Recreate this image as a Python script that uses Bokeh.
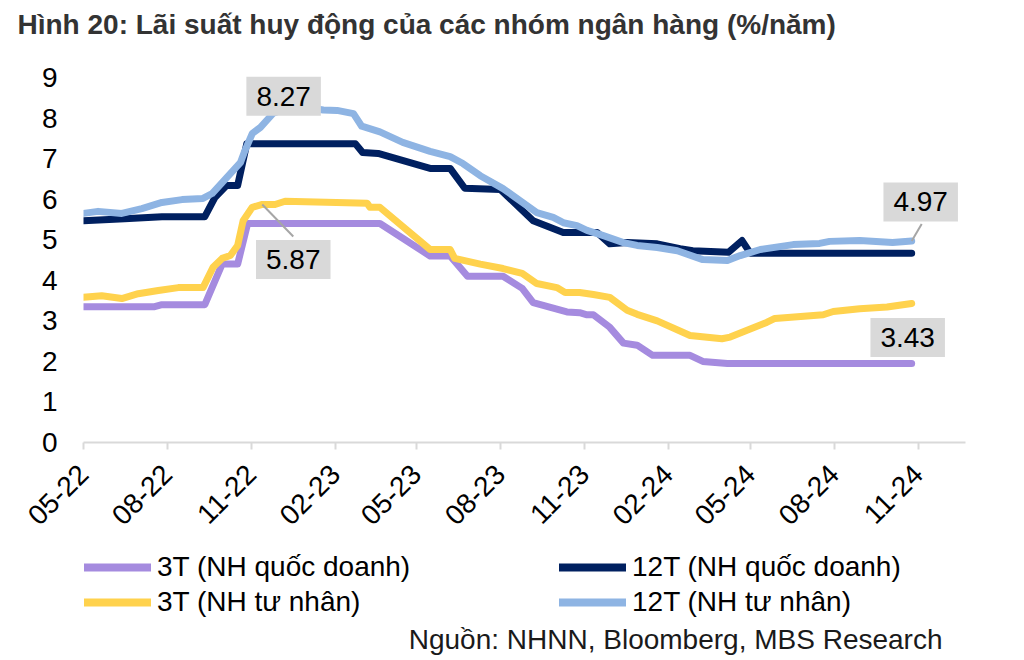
import math
import pandas as pd
from bokeh.plotting import figure
from bokeh.layouts import column
from bokeh.models import (ColumnDataSource, Range1d, FixedTicker, DatetimeTickFormatter,
                          Legend, LegendItem, Label, Title)
from bokeh.embed import file_html
from bokeh.resources import INLINE

# ---------------- data ----------------
title_text = "Hình 20: Lãi suất huy động của các nhóm ngân hàng (%/năm)"
source_text = "Nguồn: NHNN, Bloomberg, MBS Research"
series_labels = ["3T (NH quốc doanh)", "12T (NH quốc doanh)", "3T (NH tư nhân)", "12T (NH tư nhân)"]

dates_3t_qd = ["2022-05-01", "2022-07-18", "2022-07-26", "2022-09-11", "2022-09-30", "2022-10-17",
               "2022-10-28", "2023-03-22", "2023-05-16", "2023-06-07", "2023-06-26", "2023-08-04",
               "2023-08-25", "2023-09-06", "2023-10-13", "2023-10-27", "2023-11-04", "2023-11-11",
               "2023-11-29", "2023-12-14", "2023-12-29", "2024-01-15", "2024-02-25", "2024-03-10",
               "2024-04-06", "2024-10-25"]
vals_3t_qd = [3.35, 3.35, 3.40, 3.40, 4.40, 4.40, 5.40, 5.40, 4.60, 4.60, 4.10, 4.10, 3.80, 3.45,
              3.22, 3.20, 3.15, 3.15, 2.84, 2.45, 2.40, 2.15, 2.15, 2.00, 1.95, 1.95]

dates_12t_qd = ["2022-05-01", "2022-06-15", "2022-07-26", "2022-09-11", "2022-09-22", "2022-10-05",
                "2022-10-17", "2022-10-27", "2023-02-23", "2023-03-03", "2023-03-20", "2023-05-16",
                "2023-06-07", "2023-06-23", "2023-08-01", "2023-09-06", "2023-10-09", "2023-11-15",
                "2023-11-29", "2023-12-18", "2024-01-20", "2024-02-14", "2024-02-28", "2024-04-07",
                "2024-04-22", "2024-05-01", "2024-10-25"]
vals_12t_qd = [5.47, 5.52, 5.57, 5.57, 6.04, 6.34, 6.34, 7.37, 7.37, 7.15, 7.13, 6.76, 6.76, 6.27,
               6.24, 5.47, 5.18, 5.18, 4.90, 4.93, 4.90, 4.78, 4.73, 4.69, 4.98, 4.67, 4.67]

dates_3t_tn = ["2022-05-01", "2022-05-21", "2022-06-12", "2022-06-30", "2022-07-22", "2022-08-13",
               "2022-09-09", "2022-09-20", "2022-09-30", "2022-10-09", "2022-10-17", "2022-10-23",
               "2022-11-02", "2022-11-13", "2022-11-27", "2022-12-08", "2023-03-08", "2023-03-11",
               "2023-03-22", "2023-05-16", "2023-06-07", "2023-06-12", "2023-07-10", "2023-08-04",
               "2023-08-25", "2023-09-10", "2023-10-02", "2023-10-11", "2023-10-27", "2023-11-11",
               "2023-11-29", "2023-12-18", "2023-12-29", "2024-01-20", "2024-02-25", "2024-03-31",
               "2024-04-09", "2024-05-19", "2024-05-28", "2024-07-20", "2024-07-31", "2024-08-29",
               "2024-09-28", "2024-10-25"]
vals_3t_tn = [3.58, 3.62, 3.55, 3.67, 3.75, 3.82, 3.82, 4.32, 4.54, 4.61, 4.86, 5.47, 5.80, 5.87,
              5.87, 5.95, 5.90, 5.80, 5.80, 4.76, 4.76, 4.54, 4.40, 4.29, 4.17, 3.92, 3.82, 3.70,
              3.70, 3.65, 3.58, 3.26, 3.16, 3.00, 2.64, 2.56, 2.60, 2.96, 3.06, 3.15, 3.23, 3.30,
              3.34, 3.43]

dates_12t_tn = ["2022-05-01", "2022-05-17", "2022-06-12", "2022-07-04", "2022-07-26", "2022-08-17",
                "2022-09-09", "2022-09-19", "2022-09-30", "2022-10-20", "2022-10-25", "2022-11-02",
                "2022-11-11", "2022-11-25", "2022-12-13", "2023-01-04", "2023-01-19", "2023-02-03",
                "2023-02-21", "2023-03-02", "2023-03-22", "2023-04-16", "2023-05-16", "2023-06-07",
                "2023-06-21", "2023-07-10", "2023-08-04", "2023-09-10", "2023-09-28", "2023-10-09",
                "2023-10-24", "2023-11-04", "2023-11-22", "2023-12-14", "2023-12-29", "2024-01-20",
                "2024-02-11", "2024-03-10", "2024-04-06", "2024-04-20", "2024-05-12", "2024-06-17",
                "2024-07-16", "2024-07-27", "2024-08-29", "2024-10-04", "2024-10-25"]
vals_12t_tn = [5.65, 5.70, 5.65, 5.77, 5.92, 5.99, 6.02, 6.14, 6.41, 6.90, 7.20, 7.62, 7.77, 8.12,
               8.27, 8.25, 8.20, 8.19, 8.11, 7.80, 7.66, 7.40, 7.18, 7.05, 6.88, 6.58, 6.26, 5.67,
               5.55, 5.42, 5.35, 5.23, 5.10, 4.93, 4.86, 4.81, 4.73, 4.51, 4.49, 4.61, 4.76, 4.88,
               4.91, 4.96, 4.98, 4.93, 4.97]

tick_dates = ["2022-05-01", "2022-08-01", "2022-11-01", "2023-02-01", "2023-05-01", "2023-08-01",
              "2023-11-01", "2024-02-01", "2024-05-01", "2024-08-01", "2024-11-01"]
y_ticks = [0, 1, 2, 3, 4, 5, 6, 7, 8, 9]

colors = ["#A58BDF", "#002060", "#FFD24D", "#8EB4E3"]

# ---------------- layout constants ----------------
FONT = "Liberation Sans"
W = 1016
BL, BR, BT, BB = 83, 51, 73, 105
FH = 369
FW = W - BL - BR
CHART_H = BT + FH + BB
LEG_H = 111

x_start = pd.Timestamp("2022-05-01")
x_end = pd.Timestamp("2024-12-23")
y_start, y_end = 0, 9.1


def ms(d):
    return pd.Timestamp(d).value / 1e6


PX_PER_MS = FW / (ms(x_end) - ms(x_start))
PX_PER_UNIT = FH / (y_end - y_start)

# ---------------- chart ----------------
p = figure(width=W, height=CHART_H, x_axis_type="datetime", output_backend="svg",
           toolbar_location=None, x_range=Range1d(x_start, x_end),
           y_range=Range1d(y_start, y_end),
           min_border_left=BL, min_border_right=BR, min_border_top=BT, min_border_bottom=BB)
# trailing empty line lifts the title away from the frame without enlarging the border
p.title = Title(text=title_text + "\n", align="left", offset=-66, standoff=6,
                text_line_height=1.0, text_font=FONT,
                text_font_size="28px", text_font_style="bold", text_color="#333333")
p.outline_line_color = None
p.xgrid.visible = False
p.ygrid.visible = False

p.xaxis.ticker = FixedTicker(ticks=[ms(d) for d in tick_dates])
fmt = "%m-%y"
p.xaxis.formatter = DatetimeTickFormatter(years=fmt, months=fmt, days=fmt, hours=fmt, minutes=fmt,
                                          seconds=fmt, milliseconds=fmt, microseconds=fmt,
                                          hourmin=fmt, minsec=fmt)
p.xaxis.major_label_orientation = math.pi / 4
p.xaxis.axis_line_color = "#D9D9D9"
p.xaxis.axis_line_width = 2
p.xaxis.major_tick_line_color = "#D9D9D9"
p.xaxis.major_tick_line_width = 2
p.xaxis.major_tick_out = 7
p.xaxis.major_tick_in = 0
p.xaxis.minor_tick_line_color = None
p.xaxis.major_label_standoff = 20
p.xaxis.major_label_text_font = FONT
p.xaxis.major_label_text_font_size = "28px"
p.xaxis.major_label_text_color = "#000000"

p.yaxis.ticker = FixedTicker(ticks=y_ticks)
p.yaxis.axis_line_color = None
p.yaxis.major_tick_line_color = None
p.yaxis.minor_tick_line_color = None
p.yaxis.major_label_standoff = 20
p.yaxis.major_label_text_font = FONT
p.yaxis.major_label_text_font_size = "28px"
p.yaxis.major_label_text_color = "#000000"

all_dates = [dates_3t_qd, dates_12t_qd, dates_3t_tn, dates_12t_tn]
all_vals = [vals_3t_qd, vals_12t_qd, vals_3t_tn, vals_12t_tn]
for d, v, c in zip(all_dates, all_vals, colors):
    src = ColumnDataSource(dict(x=pd.to_datetime(d), y=v))
    p.line("x", "y", source=src, line_color=c, line_width=7, line_join="round", line_cap="round")


def callout(dates, vals, idx, dx, dy, leader=None):
    xd = ms(dates[idx])
    yv = vals[idx]
    if leader is not None:
        lx, ly = leader
        p.segment(x0=[xd], y0=[yv], x1=[xd + lx / PX_PER_MS], y1=[yv + ly / PX_PER_UNIT],
                  line_color="#A6A6A6", line_width=2)
    p.add_layout(Label(x=xd, y=yv, x_offset=dx, y_offset=dy, text=f"{yv:.2f}",
                       text_font=FONT, text_font_size="28px", text_color="#000000",
                       text_align="center", text_baseline="middle",
                       background_fill_color="#D9D9D9", padding=10))


i_max = vals_12t_tn.index(max(vals_12t_tn))
callout(dates_12t_tn, vals_12t_tn, i_max, -6, 11)
callout(dates_3t_tn, vals_3t_tn, dates_3t_tn.index("2022-11-13"), 31, -55, leader=(31, -32))
callout(dates_12t_tn, vals_12t_tn, len(vals_12t_tn) - 1, 9, 39, leader=(10, 17))
callout(dates_3t_tn, vals_3t_tn, len(vals_3t_tn) - 1, -4, -34)

# ---------------- legend + source (frame aligned with chart frame) ----------------
pl = figure(width=W, height=LEG_H, output_backend="svg", toolbar_location=None,
            x_axis_location=None, y_axis_location=None,
            x_range=Range1d(0, 1), y_range=Range1d(0, 1),
            min_border_left=BL, min_border_right=BR, min_border_top=0, min_border_bottom=0)
pl.outline_line_color = None
pl.grid.visible = False
# legend-only renderers (their single point lies outside the visible range)
dummies = [pl.line(x=[-1], y=[-1], line_color=c, line_width=8, line_cap="round") for c in colors]
leg_kw = dict(label_text_font=FONT, label_text_font_size="28px", label_text_color="#000000",
              glyph_width=67, glyph_height=30, label_height=30, label_standoff=6, spacing=3,
              padding=0, margin=0, border_line_color=None, background_fill_alpha=0)
leg1 = Legend(items=[LegendItem(label=series_labels[0], renderers=[dummies[0]]),
                     LegendItem(label=series_labels[2], renderers=[dummies[2]])],
              location=(1, LEG_H - 71), **leg_kw)
leg2 = Legend(items=[LegendItem(label=series_labels[1], renderers=[dummies[1]]),
                     LegendItem(label=series_labels[3], renderers=[dummies[3]])],
              location=(476, LEG_H - 71), **leg_kw)
pl.add_layout(leg1)
pl.add_layout(leg2)
pl.add_layout(Label(x=942 - BL, y=19, x_units="screen", y_units="screen", text=source_text,
                    text_font=FONT, text_font_size="28px", text_color="#1A1A1A",
                    text_align="right", text_baseline="alphabetic"))

layout = column(p, pl, spacing=0)
open("out.html", "w").write(file_html(layout, INLINE))
